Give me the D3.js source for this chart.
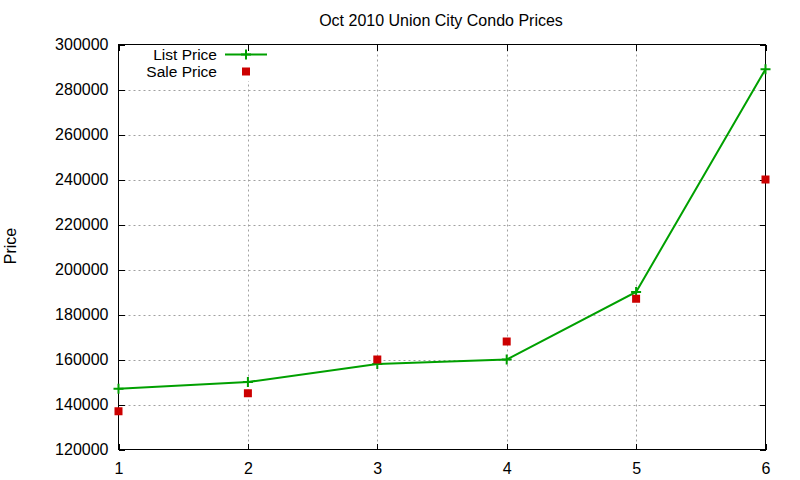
<!DOCTYPE html>
<html>
<head>
<meta charset="utf-8">
<script src="https://cdn.jsdelivr.net/npm/d3@7"></script>
<style>
  body { margin: 0; background: #fff; }
  svg { display: block; font-family: "Liberation Sans", Arial, sans-serif; }
</style>
</head>
<body>
<svg id="chart" width="800" height="480"></svg>
<script>
const xValues = [1, 2, 3, 4, 5, 6];
const listPrice = [147000, 150000, 158000, 160000, 190000, 289000];
const salePrice = [137000, 145000, 160000, 168000, 187000, 240000];
const yTicks = [120000, 140000, 160000, 180000, 200000, 220000, 240000, 260000, 280000, 300000];
const xTicks = [1, 2, 3, 4, 5, 6];
const titleText = "Oct 2010 Union City Condo Prices";
const yLabel = "Price";
const seriesNames = ["List Price", "Sale Price"];

const svg = d3.select("#chart");
const L = 118.5, R = 765.5, T = 44.5, B = 449.5;
const x = d3.scaleLinear().domain([1, 6]).range([L, R]);
const y = d3.scaleLinear().domain([120000, 300000]).range([B, T]);
const green = "#00a000", red = "#cc0000";

// grid
const g = svg.append("g");
g.selectAll(".gy").data(yTicks.filter(v => v > 120000 && v < 300000)).join("line")
  .attr("x1", L).attr("x2", R).attr("y1", d => Math.round(y(d)) + 0.5).attr("y2", d => Math.round(y(d)) + 0.5)
  .attr("stroke", "#a0a0a0").attr("stroke-width", 1).attr("stroke-dasharray", "2,3");
g.selectAll(".gx").data(xTicks.filter(v => v > 1 && v < 6)).join("line")
  .attr("y1", T).attr("y2", B).attr("x1", d => Math.round(x(d)) + 0.5).attr("x2", d => Math.round(x(d)) + 0.5)
  .attr("stroke", "#a0a0a0").attr("stroke-width", 1).attr("stroke-dasharray", "2,3");

// legend background (opaque key area)
svg.append("rect").attr("x", 140).attr("y", 46).attr("width", 135).attr("height", 35).attr("fill", "#fff");

// axes with d3 axis generators, ticks pointing inward
const axL = d3.axisLeft(y).tickValues(yTicks).tickSize(-6).tickPadding(10).tickFormat(d3.format("d"));
const axR = d3.axisRight(y).tickValues(yTicks).tickSize(-6).tickFormat("");
const axB = d3.axisBottom(x).tickValues(xTicks).tickSize(-6).tickPadding(13).tickFormat(d3.format("d"));
const axT = d3.axisTop(x).tickValues(xTicks).tickSize(-6).tickFormat("");
function style(sel) {
  sel.select(".domain").remove();
  sel.selectAll("line").attr("stroke", "#000").attr("shape-rendering", "crispEdges");
  sel.selectAll("text").attr("font-size", 16).attr("fill", "#000").attr("font-family", "Liberation Sans, Arial, sans-serif");
}
svg.append("g").attr("transform", `translate(${L},0)`).call(axL).call(style);
svg.append("g").attr("transform", `translate(${R},0)`).call(axR).call(style);
svg.append("g").attr("transform", `translate(0,${B})`).call(axB).call(style);
svg.append("g").attr("transform", `translate(0,${T})`).call(axT).call(style);

// border
svg.append("rect").attr("x", L).attr("y", T).attr("width", R - L).attr("height", B - T)
  .attr("fill", "none").attr("stroke", "#000").attr("stroke-width", 1.5).attr("shape-rendering", "crispEdges");

// list price line
const line = d3.line().x((d, i) => x(xValues[i])).y(d => y(d));
svg.append("path").datum(listPrice).attr("d", line).attr("fill", "none")
  .attr("stroke", green).attr("stroke-width", 2);
function drawPlus(cx, cy) {
  svg.append("path").attr("d", `M${cx - 5},${cy}H${cx + 5}M${cx},${cy - 5}V${cy + 5}`)
    .attr("stroke", green).attr("stroke-width", 2).attr("fill", "none");
}
listPrice.forEach((v, i) => drawPlus(x(xValues[i]), y(v)));

// sale price squares
svg.selectAll(".sale").data(salePrice).join("rect")
  .attr("x", (d, i) => x(xValues[i]) - 4).attr("y", d => y(d) - 4)
  .attr("width", 8).attr("height", 8).attr("fill", red);

// title and axis label
svg.append("text").attr("x", 441).attr("y", 26).attr("text-anchor", "middle")
  .attr("font-size", 16).text(titleText);
svg.append("text").attr("transform", "translate(16,246) rotate(-90)").attr("text-anchor", "middle")
  .attr("font-size", 16).text(yLabel);

// legend
svg.append("text").attr("x", 217).attr("y", 59.5).attr("text-anchor", "end").attr("font-size", 15.5).text(seriesNames[0]);
svg.append("text").attr("x", 217).attr("y", 77).attr("text-anchor", "end").attr("font-size", 15.5).text(seriesNames[1]);
svg.append("line").attr("x1", 225).attr("x2", 267).attr("y1", 54.5).attr("y2", 54.5)
  .attr("stroke", green).attr("stroke-width", 2);
drawPlus(246, 54.5);
svg.append("rect").attr("x", 242).attr("y", 67.5).attr("width", 8).attr("height", 8).attr("fill", red);
</script>
</body>
</html>
